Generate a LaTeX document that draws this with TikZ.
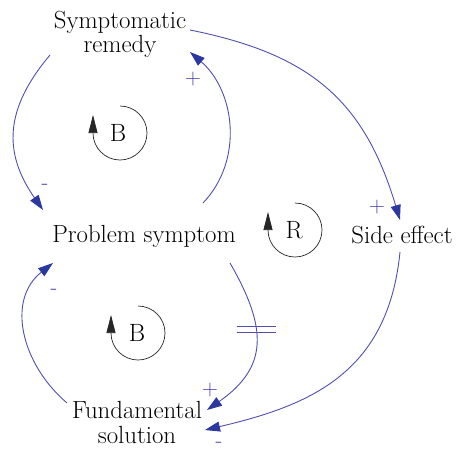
\documentclass[tikz,border=0pt]{standalone}
\usetikzlibrary{arrows.meta,calc}
\definecolor{lineblue}{RGB}{80,78,175}
\definecolor{headblue}{RGB}{42,56,160}
\definecolor{signblue}{RGB}{70,60,170}
\begin{document}
\begin{tikzpicture}[x=1pt,y=-1pt,
  var/.style={inner sep=0pt,align=center,font=\fontsize{24.8}{24.5}\selectfont},
  looplbl/.style={inner sep=0pt,font=\fontsize{25}{25}\selectfont},
  sign/.style={inner sep=0pt,text=signblue,font=\fontsize{22}{22}\selectfont},
  conn/.style={draw=lineblue,line width=0.9pt,-{Triangle[length=15pt,width=10pt,fill=headblue,color=headblue]}},
  loopline/.style={draw=black!85,line width=0.7pt,-{Triangle[length=18pt,width=9pt]}},
  delaymark/.style={draw=lineblue,line width=0.9pt}]
\useasboundingbox (0,0) rectangle (457,453);
% variables
\node[var] (sr) at (120,34.3) {Symptomatic\\remedy};
\node[var,anchor=base] (ps) at (144,242) {Problem symptom};
\node[var,anchor=base] (se) at (402,243) {Side effect};
\node[var] (fs) at (137,422.3) {Fundamental\\solution};
% loop labels
\node[looplbl] (b1) at (118,133) {B};
\node[looplbl] (b2) at (137,333) {B};
\node[looplbl] (r1) at (294,230) {R};
\coordinate (b1c) at (120,133);
\coordinate (b2c) at (138,333);
\coordinate (r1c) at (295,230);
\draw[loopline] (b1c) ++(0,-27) arc[start angle=-90,end angle=180,radius=27] -- ++(0,-18);
\draw[loopline] (b2c) ++(0,-27) arc[start angle=-90,end angle=180,radius=27] -- ++(0,-18);
\draw[loopline] (r1c) ++(0,-27) arc[start angle=-90,end angle=180,radius=27] -- ++(0,-18);
% connectors
\draw[conn] ($(sr.center)+(-70,20.7)$) .. controls +(-45.5,54) and +(-40,-57.4) .. ($(ps.base)+(-101,-32)$);
\draw[conn] ($(ps.base)+(59,-39)$) .. controls +(41,-43) and +(45,39) .. ($(sr.center)+(70,17.7)$);
\draw[conn] ($(sr.center)+(70,-4.3)$) .. controls +(120,24) and +(-36,-120) .. ($(se.base)+(-2,-23)$);
\draw[conn] ($(se.base)+(-2,9)$) .. controls +(-12,120) and +(107,-25) .. ($(fs.center)+(68,7.7)$);
\draw[conn] ($(ps.base)+(86,21)$) .. controls +(37.5,65) and +(61.5,-43) .. coordinate[pos=0.39] (dly) ($(fs.center)+(70,-12.3)$);
\draw[conn] ($(fs.center)+(-70,-19.3)$) .. controls +(-45.6,-39) and +(-47,37) .. ($(ps.base)+(-91,21)$);
% delay mark
\draw[delaymark] ($(dly)+(-19,-3)$) -- ($(dly)+(20,-3)$);
\draw[delaymark] ($(dly)+(-19,3)$) -- ($(dly)+(20,3)$);
% polarity signs
\node[sign] (s1) at (45,187) {-};
\node[sign] (s2) at (193,79) {+};
\node[sign] (s3) at (377,207) {+};
\node[sign] (s4) at (219,445) {-};
\node[sign] (s5) at (210,390) {+};
\node[sign] (s6) at (54,292) {-};
\end{tikzpicture}
\end{document}
